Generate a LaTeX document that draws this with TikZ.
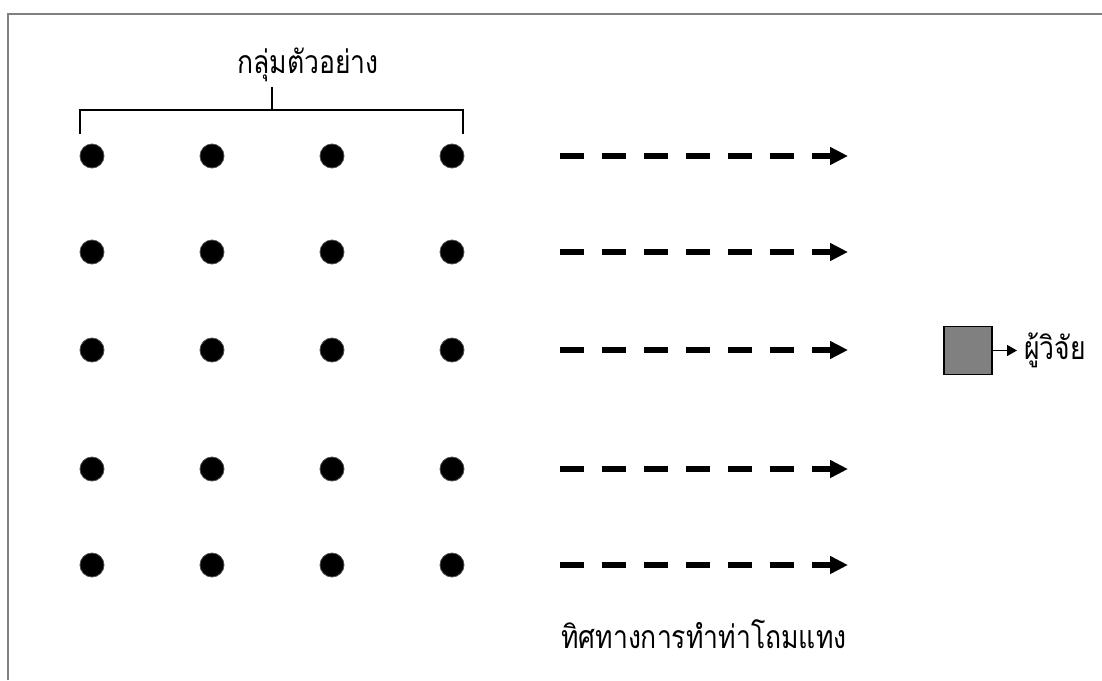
\documentclass[tikz,border=0pt]{standalone}
\usepackage{fontspec}
\newfontfamily\thaifont[Script=Thai,FakeStretch=0.83]{Loma}
\usetikzlibrary{arrows.meta}
\begin{document}
\begin{tikzpicture}[x=1pt,y=-1pt,
  dot/.style={circle,fill=black,draw=black!70,line width=0.8pt,inner sep=0pt,minimum size=24pt},
  frameline/.style={draw=black!50,line width=1.6pt},
  bracket/.style={draw=black,line width=1.6pt},
  dasharrow/.style={line width=6pt,dash pattern=on 24.3pt off 17.7pt,-{Triangle[length=18pt,width=17pt]}},
  resbox/.style={draw=black,line width=1.5pt,fill=black!50,minimum size=48pt,inner sep=0pt},
  resarrow/.style={line width=1.5pt,-{Triangle[length=10pt,width=11pt]}},
  thlabel/.style={inner sep=0pt,font=\thaifont\fontsize{32}{36}\selectfont}]
\useasboundingbox (0,0) rectangle (1102,680);
\fill[white] (0,0) rectangle (1102,680);
% frame
\draw[frameline] (8,680) -- (8,14) -- (1102,14);
% dots
\foreach \r/\y in {1/156,2/252,3/350,4/469,5/565}{
  \foreach \c/\x in {1/92,2/212,3/332,4/452}{
    \node[dot] (d\r\c) at (\x,\y) {};
  }
  \coordinate (s\r) at (560,\y);
  \coordinate (e\r) at (848,\y);
  \draw[dasharrow] (s\r) -- (e\r);
}
% bracket
\coordinate (bl) at (80,134);
\coordinate (br) at (463,134);
\coordinate (bm) at (272,110);
\coordinate (bt) at (272,87);
\draw[bracket] (bl) -- (80,110) -- (463,110) -- (br);
\draw[bracket] (bm) -- (bt);
\node[thlabel,anchor=base west] (group) at (237,73) {กลุ่มตัวอย่าง};
% researcher
\node[resbox] (res) at (968,350.5) {};
\coordinate (ra) at (1017,350.5);
\draw[resarrow] (res.east) -- (ra);
\node[thlabel,anchor=west] (reslabel) at (1024,350) {ผู้วิจัย};
% direction label
\node[thlabel,anchor=base west] (dir) at (561,648) {ทิศทางการทำท่าโถมแทง};
\end{tikzpicture}
\end{document}
